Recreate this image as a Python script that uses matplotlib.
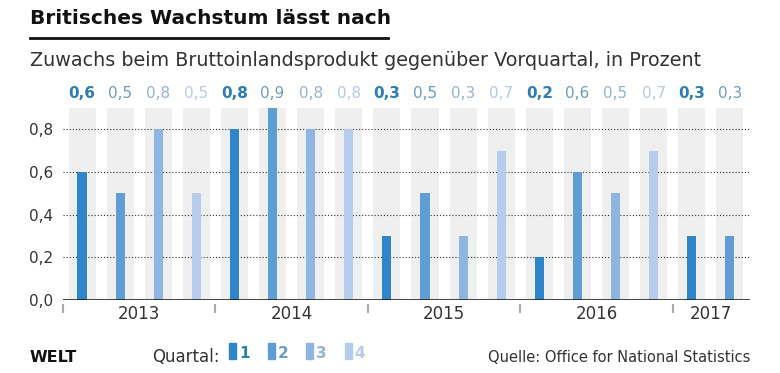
import numpy as np
import matplotlib
matplotlib.use("Agg")
import matplotlib.pyplot as plt
from matplotlib.patches import Rectangle

plt.rcParams['font.family'] = ['DejaVu Sans']

# Daten: BIP-Wachstum gegenüber Vorquartal (%)
years = ['2013', '2014', '2015', '2016', '2017']
quarters = [1, 2, 3, 4] * 4 + [1, 2]
growth = [0.6, 0.5, 0.8, 0.5,
          0.8, 0.9, 0.8, 0.8,
          0.3, 0.5, 0.3, 0.7,
          0.2, 0.6, 0.5, 0.7,
          0.3, 0.3]
labels = ['0,6', '0,5', '0,8', '0,5', '0,8', '0,9', '0,8', '0,8', '0,3',
          '0,5', '0,3', '0,7', '0,2', '0,6', '0,5', '0,7', '0,3', '0,3']
yticks = [0.0, 0.2, 0.4, 0.6, 0.8]
ytick_labels = ['0,0', '0,2', '0,4', '0,6', '0,8']

bar_colors = {1: '#2e86c9', 2: '#5e9dd6', 3: '#8fb5e2', 4: '#b5cdea'}
text_colors = {1: '#2b7db3', 2: '#6b9cc4', 3: '#93b3d3', 4: '#b7cbe2'}

W, H = 780, 373
fig = plt.figure(figsize=(W / 100, H / 100), dpi=100)


def fx(px):
    return px / W


def fy(py):
    return 1 - py / H


ax = fig.add_axes([fx(63), fy(300), fx(750) - fx(63), (300 - 108) / H])
x = np.arange(len(growth))

# graue Hintergrundsäulen
ax.bar(x, [0.9] * len(x), width=0.71, color='#efefef', zorder=0)
for v in yticks[1:]:
    ax.axhline(v, color='#333333', linestyle=(0, (1, 1.8)), linewidth=0.8, zorder=1)
ax.bar(x, growth, width=0.24, color=[bar_colors[q] for q in quarters], zorder=2)
ax.axhline(0, color='#222222', linewidth=1.2, zorder=3)

for i, (lab, q) in enumerate(zip(labels, quarters)):
    ax.text(i, 0.935, lab, ha='center', va='bottom', fontsize=11,
            color=text_colors[q], fontweight='bold' if q == 1 else 'normal',
            clip_on=False)

ax.set_xlim(-0.5, 17.53)
ax.set_ylim(0, 0.9)
ax.set_yticks(yticks)
ax.set_yticklabels(ytick_labels, fontsize=11, color='#333333')
ax.tick_params(axis='y', length=0, pad=7)
ax.set_xticks([])
for s in ax.spines.values():
    s.set_visible(False)

# Jahrestrenner und Jahreslabels
for b in [-0.5, 3.5, 7.5, 11.5, 15.5]:
    ax.plot([b, b], [-0.02, -0.062], color='#aaaaaa', linewidth=1.5,
            clip_on=False, solid_capstyle='butt')
year_pos = [1.5, 5.5, 9.5, 13.5, 16.5]
for yr, p in zip(years, year_pos):
    ax.text(p, -0.065, yr, ha='center', va='center', fontsize=12,
            color='#333333', clip_on=False)

# Titel
fig.text(fx(30), fy(18), 'Britisches Wachstum lässt nach', fontsize=14.5,
         fontweight='bold', color='#111111', va='center', ha='left')
fig.add_artist(plt.Line2D([fx(30), fx(388)], [fy(38), fy(38)], color='#111111',
                          linewidth=2))
fig.text(fx(30), fy(60), 'Zuwachs beim Bruttoinlandsprodukt gegenüber Vorquartal, in Prozent',
         fontsize=13.8, color='#333333', va='center', ha='left')

# Fußzeile
fig.text(fx(30), fy(358), 'WELT', fontsize=11.5, fontweight='bold',
         color='#111111', va='center', ha='left')
fig.text(fx(152), fy(357), 'Quartal:', fontsize=12, color='#333333',
         va='center', ha='left')
for k, q in enumerate([1, 2, 3, 4]):
    x0 = 229 + k * 38.5
    fig.add_artist(Rectangle((fx(x0), fy(359)), fx(7), (359 - 343) / H,
                             color=bar_colors[q], transform=fig.transFigure))
    fig.text(fx(x0 + 10), fy(354), str(q), fontsize=11, fontweight='bold',
             color=text_colors[q], va='center', ha='left')
fig.text(fx(750), fy(357), 'Quelle: Office for National Statistics', fontsize=10.5,
         color='#333333', va='center', ha='right')

fig.savefig('out.png', dpi=100, facecolor='white')
